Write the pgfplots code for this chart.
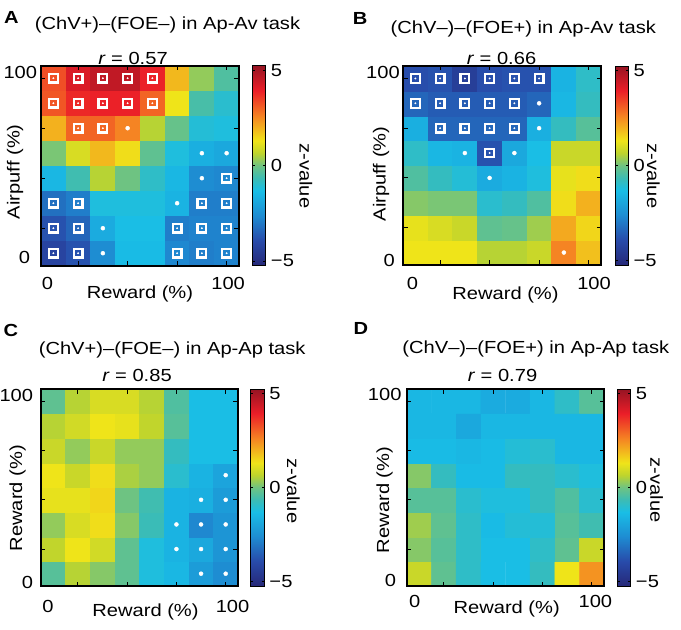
\documentclass[border=0pt]{standalone}
\usepackage{fontspec}
\setmainfont{Liberation Sans}[FakeStretch=1.15]
\usepackage{pgfplots}
\pgfplotsset{compat=1.18}
\newcommand{\fs}{\fontsize{17.5}{20}\selectfont}
\pgfplotsset{
  colorbar shift/.style={},
  colormap={pjet}{rgb255(0cm)=(38,40,120); rgb255(1cm)=(40,75,170); rgb255(2cm)=(30,140,210); rgb255(3cm)=(25,190,230); rgb255(3.5cm)=(60,188,180); rgb255(4cm)=(110,195,130); rgb255(4.5cm)=(190,212,45); rgb255(5cm)=(240,228,25); rgb255(6cm)=(245,130,35); rgb255(7cm)=(235,30,40); rgb255(8cm)=(150,20,35)},
  hm/.style={
    scale only axis, anchor=south west, enlargelimits=false, axis on top,
    xmin=-0.5, xmax=7.5, ymin=-0.5, ymax=7.5,
    colormap name=pjet, point meta min=-5.25, point meta max=5.25,
    xticklabels={0,100}, yticklabels={0,100},
    minor xtick={1,3,5,7}, minor ytick={1,3,5,7},
    major tick length=0pt, minor tick length=4.5pt, tick align=inside,
    axis line style={line width=2.2pt},
    every tick/.style={black, line width=0.9pt},
    every minor tick/.style={black, line width=0.9pt},
    /pgf/number format/assume math mode=true,
    tick label style={font=\fs},
    xticklabel style={anchor=north, inner sep=0pt},
    yticklabel style={anchor=east, inner sep=0pt, xshift=-3.7pt},
    colorbar,
    colorbar style={
      scale only axis, width=13.5pt,
      at={(parent axis.north east)}, anchor=north west,
      ytick={-5,0,5}, yticklabels={−5,0,5},
      /pgf/number format/assume math mode=true,
      yticklabel style={font=\fs, inner sep=0pt, anchor=west, xshift=5pt},
      major tick length=2.5pt, tick align=inside,
      every tick/.style={black, line width=0.6pt},
      axis line style={line width=0.7pt},
    },
  },
  sq/.style={only marks, mark=square, mark size=4.3pt, mark options={draw=white, line width=2.2pt, fill=none}},
  sqd/.style={only marks, mark=*, mark size=0.7pt, mark options={draw=white, fill=white}},
  dt/.style={only marks, mark=*, mark size=2pt, mark options={draw=white, fill=white}},
}
\begin{document}
\begin{tikzpicture}
\useasboundingbox (0pt,0pt) rectangle (681pt,630pt);
% ---------------- A ----------------
\begin{axis}[hm, at={(41pt,364.3pt)}, width=198pt, height=200pt,
  xtick={-0.24,7.06}, ytick={-0.17,7.23}, yticklabels={0\hspace*{7pt},100},
  xticklabel style={yshift=-11.3pt},
  colorbar style={height=200pt, xshift=13.3pt}]
\addplot[matrix plot*, mesh/cols=8, point meta=explicit] table[row sep=\\, meta=z] {
x y z\\
0 0 -4.2\\1 0 -3.8\\2 0 -2.6\\3 0 -1.4\\4 0 -1.4\\5 0 -2.7\\6 0 -2.9\\7 0 -2.8\\
0 1 -3.8\\1 1 -3.4\\2 1 -1.8\\3 1 -1.3\\4 1 -1.3\\5 1 -2.9\\6 1 -2.8\\7 1 -2.8\\
0 2 -3.2\\1 2 -2.9\\2 2 -1.2\\3 2 -1.2\\4 2 -1.2\\5 2 -1.6\\6 2 -2.9\\7 2 -2.9\\
0 3 -1.5\\1 3 -0.6\\2 3 0.6\\3 3 0.0\\4 3 -0.9\\5 3 -1.5\\6 3 -2.6\\7 3 -2.7\\
0 4 0.1\\1 4 1.0\\2 4 1.9\\3 4 1.4\\4 4 -0.2\\5 4 -1.2\\6 4 -1.7\\7 4 -1.9\\
0 5 2.0\\1 5 3.0\\2 5 3.0\\3 5 2.6\\4 5 0.6\\5 5 -0.1\\6 5 -1.1\\7 5 -1.2\\
0 6 3.2\\1 6 3.8\\2 6 3.9\\3 6 3.9\\4 6 3.0\\5 6 1.3\\6 6 -0.5\\7 6 -1.0\\
0 7 3.3\\1 7 4.2\\2 7 4.6\\3 7 4.6\\4 7 3.9\\5 7 1.9\\6 7 0.3\\7 7 -0.4\\
};
\addplot[sq] coordinates {(0,7)(1,7)(2,7)(3,7)(4,7)(0,6)(1,6)(2,6)(3,6)(4,6)(1,5)(2,5)(7,3)(0,2)(1,2)(6,2)(7,2)(0,1)(1,1)(5,1)(6,1)(7,1)(0,0)(1,0)(5,0)(6,0)(7,0)};
\addplot[sqd] coordinates {(0,7)(1,7)(2,7)(3,7)(4,7)(0,6)(1,6)(2,6)(3,6)(4,6)(1,5)(2,5)(7,3)(0,2)(1,2)(6,2)(7,2)(0,1)(1,1)(5,1)(6,1)(7,1)(0,0)(1,0)(5,0)(6,0)(7,0)};
\addplot[dt] coordinates {(3,5)(6,4)(7,4)(6,3)(5,2)(2,1)(2,0)};
\end{axis}
% ---------------- B ----------------
\begin{axis}[hm, at={(403pt,365pt)}, width=198pt, height=199pt,
  xtick={-0.12,7.22}, ytick={-0.33,7.23}, yticklabels={0\hspace*{5pt},100},
  xticklabel style={yshift=-11.7pt}, yticklabel style={xshift=0.7pt},
  colorbar style={height=199pt, xshift=14pt}]
\addplot[matrix plot*, mesh/cols=8, point meta=explicit] table[row sep=\\, meta=z] {
x y z\\
0 0 1.3\\1 0 1.3\\2 0 1.3\\3 0 0.6\\4 0 0.6\\5 0 0.8\\6 0 2.6\\7 0 1.8\\
0 1 1.2\\1 1 1.0\\2 1 0.8\\3 1 -0.2\\4 1 -0.1\\5 1 0.4\\6 1 2.1\\7 1 1.5\\
0 2 0.2\\1 2 0.1\\2 2 0.1\\3 2 -1.0\\4 2 -0.8\\5 2 -0.4\\6 2 1.4\\7 2 2.0\\
0 3 -0.4\\1 3 -0.8\\2 3 -1.1\\3 3 -1.8\\4 3 -1.6\\5 3 -1.2\\6 3 1.2\\7 3 1.4\\
0 4 -0.9\\1 4 -1.5\\2 4 -1.6\\3 4 -3.8\\4 4 -1.9\\5 4 -1.3\\6 4 0.8\\7 4 0.8\\
0 5 -1.7\\1 5 -3.4\\2 5 -3.4\\3 5 -3.4\\4 5 -3.4\\5 5 -1.7\\6 5 -0.8\\7 5 -0.3\\
0 6 -3.4\\1 6 -3.6\\2 6 -3.6\\3 6 -3.6\\4 6 -3.6\\5 6 -3.4\\6 6 -1.5\\7 6 -0.8\\
0 7 -3.9\\1 7 -3.8\\2 7 -4.4\\3 7 -3.9\\4 7 -3.8\\5 7 -3.8\\6 7 -1.6\\7 7 -0.9\\
};
\addplot[sq] coordinates {(0,7)(1,7)(2,7)(3,7)(4,7)(5,7)(0,6)(1,6)(2,6)(3,6)(4,6)(1,5)(2,5)(3,5)(4,5)(3,4)};
\addplot[sqd] coordinates {(0,7)(1,7)(2,7)(3,7)(4,7)(5,7)(0,6)(1,6)(2,6)(3,6)(4,6)(1,5)(2,5)(3,5)(4,5)(3,4)};
\addplot[dt] coordinates {(5,6)(5,5)(2,4)(4,4)(3,3)(6,0)};
\end{axis}
% ---------------- C ----------------
\begin{axis}[hm, at={(41pt,44pt)}, width=197pt, height=197pt,
  xtick={-0.22,7.28}, ytick={-0.36,7.22}, yticklabels={0,100},
  xticklabel style={yshift=-14pt}, yticklabel style={xshift=-4pt},
  colorbar style={height=197pt, xshift=12.8pt}]
\addplot[matrix plot*, mesh/cols=8, point meta=explicit] table[row sep=\\, meta=z] {
x y z\\
0 0 -0.3\\1 0 0.6\\2 0 0.2\\3 0 -0.2\\4 0 -1.2\\5 0 -1.5\\6 0 -2.2\\7 0 -2.6\\
0 1 0.7\\1 1 1.3\\2 1 0.9\\3 1 -0.2\\4 1 -1.2\\5 1 -1.6\\6 1 -1.9\\7 1 -2.4\\
0 2 0.3\\1 2 1.0\\2 2 1.4\\3 2 0.2\\4 2 -0.7\\5 2 -1.6\\6 2 -2.7\\7 2 -2.4\\
0 3 1.2\\1 3 1.2\\2 3 1.5\\3 3 0.0\\4 3 -0.6\\5 3 -1.6\\6 3 -1.7\\7 3 -2.2\\
0 4 1.3\\1 4 0.8\\2 4 1.4\\3 4 0.5\\4 4 0.3\\5 4 -1.0\\6 4 -1.6\\7 4 -2.0\\
0 5 0.8\\1 5 0.3\\2 5 0.8\\3 5 0.3\\4 5 0.3\\5 5 -0.8\\6 5 -1.3\\7 5 -1.3\\
0 6 0.6\\1 6 0.9\\2 6 1.3\\3 6 1.2\\4 6 0.7\\5 6 -0.3\\6 6 -1.3\\7 6 -1.3\\
0 7 -0.2\\1 7 0.6\\2 7 1.0\\3 7 1.0\\4 7 0.6\\5 7 -0.4\\6 7 -1.3\\7 7 -1.3\\
};
\addplot[dt] coordinates {(7,4)(6,3)(7,3)(5,2)(6,2)(7,2)(5,1)(6,1)(7,1)(6,0)(7,0)};
\end{axis}
% ---------------- D ----------------
\begin{axis}[hm, at={(406.7pt,44pt)}, width=197.6pt, height=197pt,
  xtick={-0.18,7.14}, ytick={-0.26,7.26}, yticklabels={0\hspace*{5.5pt},100},
  xticklabel style={yshift=-9pt}, yticklabel style={xshift=-1.3pt},
  colorbar style={height=197pt, xshift=13pt}]
\addplot[matrix plot*, mesh/cols=8, point meta=explicit] table[row sep=\\, meta=z] {
x y z\\
0 0 0.8\\1 0 -0.2\\2 0 -0.9\\3 0 -1.3\\4 0 -1.3\\5 0 -0.8\\6 0 1.3\\7 0 2.4\\
0 1 0.2\\1 1 -0.3\\2 1 -0.9\\3 1 -1.3\\4 1 -1.3\\5 1 -0.9\\6 1 -0.2\\7 1 0.8\\
0 2 0.4\\1 2 -0.2\\2 2 -0.9\\3 2 -1.4\\4 2 -1.1\\5 2 -1.1\\6 2 -0.3\\7 2 -0.6\\
0 3 -0.3\\1 3 -0.3\\2 3 -1.0\\3 3 -1.2\\4 3 -1.2\\5 3 -0.8\\6 3 -0.4\\7 3 -1.0\\
0 4 0.2\\1 4 -0.8\\2 4 -1.4\\3 4 -1.4\\4 4 -0.8\\5 4 -0.8\\6 4 -1.0\\7 4 -1.2\\
0 5 -1.4\\1 5 -1.4\\2 5 -1.5\\3 5 -1.4\\4 5 -1.1\\5 5 -1.0\\6 5 -1.5\\7 5 -1.5\\
0 6 -1.5\\1 6 -1.5\\2 6 -1.9\\3 6 -1.5\\4 6 -1.5\\5 6 -1.5\\6 6 -1.5\\7 6 -1.5\\
0 7 -1.5\\1 7 -1.5\\2 7 -1.5\\3 7 -1.8\\4 7 -1.8\\5 7 -1.5\\6 7 -0.9\\7 7 -0.3\\
};
\end{axis}
% ---------------- texts ----------------
\begin{scope}[every node/.style={font=\fs, inner sep=0pt}]
\node[anchor=base west, font=\fs\bfseries] at (4pt,606.7pt) {A};
\node[anchor=base west, font=\fs\bfseries] at (352.7pt,605pt) {B};
\node[anchor=base west, font=\fs\bfseries] at (3.3pt,293.3pt) {C};
\node[anchor=base west, font=\fs\bfseries] at (353.3pt,295pt) {D};
\node[anchor=base] at (167.5pt,600.5pt) {(ChV+)–(FOE–) in Ap-Av task};
\node[anchor=base] at (523.3pt,596.7pt) {(ChV–)–(FOE+) in Ap-Av task};
\node[anchor=base] at (172.2pt,275pt) {(ChV+)–(FOE–) in Ap-Ap task};
\node[anchor=base] at (535.8pt,276.7pt) {(ChV–)–(FOE+) in Ap-Ap task};
\node[anchor=base] at (133pt,565.5pt) {\textit{r} = 0.57};
\node[anchor=base] at (501.5pt,565pt) {\textit{r} = 0.66};
\node[anchor=base] at (137pt,248.3pt) {\textit{r} = 0.85};
\node[anchor=base] at (502.5pt,248.3pt) {\textit{r} = 0.79};
\node[anchor=base] at (140pt,331.7pt) {Reward (\%)};
\node[anchor=base] at (505.5pt,330pt) {Reward (\%)};
\node[anchor=base] at (145.5pt,13.3pt) {Reward (\%)};
\node[anchor=base] at (506.7pt,16.7pt) {Reward (\%)};
\node[anchor=base, rotate=90] at (19.6pt,458.3pt) {Airpuff (\%)};
\node[anchor=base, rotate=90] at (385.6pt,456pt) {Airpuff (\%)};
\node[anchor=base, rotate=90] at (22pt,131.7pt) {Reward (\%)};
\node[anchor=base, rotate=90] at (389pt,130pt) {Reward (\%)};
\node[anchor=center, rotate=-90] at (305.8pt,454.2pt) {z-value};
\node[anchor=center, rotate=-90] at (653.3pt,454.2pt) {z-value};
\node[anchor=center, rotate=-90] at (293.3pt,139.2pt) {z-value};
\node[anchor=center, rotate=-90] at (656.7pt,140pt) {z-value};
\end{scope}
\end{tikzpicture}
\end{document}
